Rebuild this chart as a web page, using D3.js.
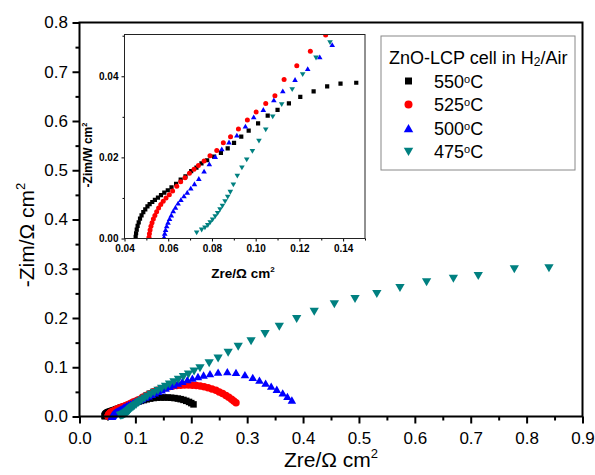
<!DOCTYPE html>
<html>
<head>
<meta charset="utf-8">
<script src="https://cdn.jsdelivr.net/npm/d3@7"></script>
<style>
  html, body { margin: 0; padding: 0; background: #fff; }
  svg { display: block; }
  text { font-family: "Liberation Sans", Arial, Helvetica, sans-serif; fill: #000; }
</style>
</head>
<body>
<svg id="chart" width="595" height="475"></svg>
<script>
// Impedance spectra (Nyquist) of the ZnO-LCP cell, Zre / -Zim in ohm cm2
const temps = ["550", "525", "500", "475"];

const zre550 = [0.0451,0.0453,0.0456,0.0460,0.0465,0.0471,0.0478,0.0486,0.0495,0.0505,0.0515,0.0527,0.0539,0.0553,0.0567,0.0582,0.0598,0.0615,0.0636,0.0657,0.0679,0.0705,0.0729,0.0752,0.0778,0.0810,0.0841,0.0872,0.0901,0.0934,0.0968,0.1011,0.1055,0.1100,0.1152,0.1204,0.1265,0.1327,0.1388,0.1460,0.152,0.158,0.164,0.170,0.176,0.181,0.186,0.191,0.196,0.200,0.204];
const zim550 = [0.0004,0.0013,0.0022,0.0031,0.0040,0.0049,0.0057,0.0065,0.0072,0.0079,0.0085,0.0090,0.0095,0.0101,0.0107,0.0113,0.0119,0.0126,0.0135,0.0145,0.0153,0.0166,0.0175,0.0185,0.0193,0.0202,0.0211,0.0222,0.0236,0.0251,0.0266,0.0284,0.0303,0.0317,0.0333,0.0349,0.0363,0.0375,0.0382,0.0384,0.0386,0.0385,0.0381,0.0374,0.0364,0.0352,0.0337,0.0318,0.0296,0.0272,0.0246];

const zre525 = [0.0512,0.0514,0.0517,0.0521,0.0526,0.0532,0.0539,0.0547,0.0556,0.0566,0.0577,0.0590,0.0605,0.0620,0.0639,0.0657,0.0677,0.0697,0.0718,0.0738,0.0764,0.0791,0.0822,0.0852,0.0885,0.0921,0.0962,0.1002,0.1046,0.1088,0.1130,0.1188,0.1250,0.1320,0.139,0.146,0.153,0.160,0.167,0.174,0.181,0.188,0.195,0.202,0.209,0.216,0.223,0.230,0.237,0.244,0.250,0.256,0.262,0.267,0.272,0.276,0.280];
const zim525 = [0.0003,0.0012,0.0021,0.0030,0.0039,0.0048,0.0057,0.0066,0.0075,0.0084,0.0092,0.0100,0.0108,0.0117,0.0129,0.0140,0.0150,0.0161,0.0171,0.0180,0.0191,0.0204,0.0217,0.0236,0.0251,0.0270,0.0292,0.0312,0.0333,0.0352,0.0392,0.0426,0.0462,0.0502,0.0535,0.0562,0.0585,0.0603,0.0617,0.0627,0.0634,0.0638,0.0638,0.0635,0.0628,0.0617,0.0602,0.0583,0.0560,0.0532,0.0500,0.0465,0.0428,0.0390,0.0352,0.0316,0.0280];

const zre500 = [0.0581,0.0584,0.0588,0.0593,0.0599,0.0606,0.0614,0.0623,0.0633,0.0645,0.0658,0.0672,0.0687,0.0703,0.0720,0.0740,0.0764,0.0788,0.0815,0.0845,0.0878,0.0914,0.0953,0.0991,0.1035,0.1083,0.1124,0.1180,0.1238,0.1293,0.1350,0.141,0.147,0.154,0.161,0.168,0.176,0.184,0.193,0.202,0.212,0.222,0.2335,0.248,0.2645,0.280,0.296,0.310,0.322,0.333,0.343,0.353,0.3636,0.372,0.380];
const zim500 = [0.0004,0.0013,0.0022,0.0031,0.0040,0.0049,0.0058,0.0068,0.0077,0.0087,0.0096,0.0105,0.0114,0.0124,0.0135,0.0148,0.0166,0.0184,0.0202,0.0221,0.0238,0.0255,0.0277,0.0300,0.0318,0.0342,0.0364,0.0392,0.0419,0.0448,0.0478,0.0512,0.0543,0.0578,0.0612,0.0645,0.0680,0.0714,0.0748,0.0780,0.0812,0.0843,0.0872,0.0902,0.0912,0.0895,0.0850,0.0795,0.0738,0.0678,0.0618,0.0553,0.0478,0.0410,0.0335];

const zre475 = [0.0730,0.0753,0.0768,0.0781,0.0792,0.0803,0.0815,0.0826,0.0837,0.0848,0.0860,0.0872,0.0884,0.0898,0.0916,0.0937,0.0959,0.0985,0.1015,0.1046,0.1078,0.1119,0.1167,0.1215,0.1276,0.1340,0.1405,0.147,0.154,0.161,0.169,0.177,0.186,0.195,0.205,0.2156,0.232,0.248,0.266,0.284,0.307,0.332,0.3575,0.3886,0.420,0.456,0.493,0.532,0.5734,0.621,0.669,0.7135,0.778,0.840];
const zim475 = [0.0014,0.0021,0.0026,0.0032,0.0039,0.0046,0.0054,0.0062,0.0071,0.0080,0.0091,0.0102,0.0114,0.0132,0.0154,0.0174,0.0194,0.0215,0.0240,0.0268,0.0300,0.0330,0.0367,0.0404,0.0445,0.0483,0.0523,0.0563,0.0605,0.0648,0.0697,0.0746,0.0800,0.0855,0.0915,0.0980,0.1080,0.1180,0.1296,0.1417,0.1530,0.1675,0.1823,0.1980,0.2128,0.2278,0.2386,0.2487,0.2609,0.2725,0.2798,0.2853,0.2989,0.3009];

// Tick values
const xTicks = [0, 0.1, 0.2, 0.3, 0.4, 0.5, 0.6, 0.7, 0.8, 0.9];
const yTicks = [0, 0.1, 0.2, 0.3, 0.4, 0.5, 0.6, 0.7, 0.8];
const xMinor = [0.05, 0.15, 0.25, 0.35, 0.45, 0.55, 0.65, 0.75, 0.85];
const yMinor = [0.05, 0.15, 0.25, 0.35, 0.45, 0.55, 0.65, 0.75];
const xiTicks = [0.04, 0.06, 0.08, 0.10, 0.12, 0.14];
const xiMinor = [0.05, 0.07, 0.09, 0.11, 0.13, 0.15];
const yiTicks = [0, 0.02, 0.04];
const yiMinor = [0.01, 0.03, 0.05];

// Styling per series
const colors = ["#000000", "#ff0000", "#0000ff", "#008080"];
const shapes = ["square", "circle", "triUp", "triDown"];

const series = [
  { t: temps[0], zre: zre550, zim: zim550 },
  { t: temps[1], zre: zre525, zim: zim525 },
  { t: temps[2], zre: zre500, zim: zim500 },
  { t: temps[3], zre: zre475, zim: zim475 }
].map((s, i) => ({ ...s, color: colors[i], shape: shapes[i],
  pts: s.zre.map((v, j) => [v, s.zim[j]]) }));

// Triangles centred on their bounding box; size = width^2
function triangle(dir, ratio) {
  return { draw(ctx, size) {
    const w = Math.sqrt(size), h = w * ratio;
    ctx.moveTo(0, -dir * h / 2);
    ctx.lineTo(w / 2, dir * h / 2);
    ctx.lineTo(-w / 2, dir * h / 2);
    ctx.closePath();
  } };
}
function symbolPath(shape, scale) {
  // scale: linear size in px (square side / circle diameter / triangle width)
  if (shape === "square") return d3.symbol(d3.symbolSquare, scale * scale)();
  if (shape === "circle") return d3.symbol(d3.symbolCircle, Math.PI * scale * scale / 4)();
  if (shape === "triUp") return d3.symbol(triangle(1, 0.86), scale * scale)();
  return d3.symbol(triangle(-1, 0.86), scale * scale)();
}
const mainSize = { square: 6.5, circle: 7.5, triUp: 8.5, triDown: 9.3 };
const insetSize = { square: 4.2, circle: 5, triUp: 5.6, triDown: 5.6 };
const legendSize = { square: 7, circle: 8, triUp: 9.5, triDown: 9.5 };

const svg = d3.select("#chart");
const FONT = '"Liberation Sans", Arial, Helvetica, sans-serif';

// ---------- Main plot ----------
const x = d3.scaleLinear().domain([0, 0.9]).range([79.5, 582.5]);
const y = d3.scaleLinear().domain([0, 0.8]).range([416.5, 22.5]);

function styleAxis(g, fs, sw, bold) {
  g.select(".domain").remove();
  g.selectAll(".tick line").attr("stroke", "#000").attr("stroke-width", sw);
  g.selectAll(".tick text").attr("font-size", fs).attr("font-family", FONT)
    .attr("font-weight", bold ? "bold" : "normal").attr("fill", "#000");
}

svg.append("g").attr("transform", `translate(0,${y(0)})`)
  .call(d3.axisBottom(x).tickValues(xTicks).tickFormat(d3.format(".1f")).tickSize(7).tickPadding(8))
  .call(g => styleAxis(g, 17, 2, false));
svg.append("g").attr("transform", `translate(0,${y(0)})`)
  .call(d3.axisBottom(x).tickValues(xMinor).tickFormat("").tickSize(4))
  .call(g => styleAxis(g, 17, 2, false));
svg.append("g").attr("transform", `translate(${x(0)},0)`)
  .call(d3.axisLeft(y).tickValues(yTicks).tickFormat(d3.format(".1f")).tickSize(7).tickPadding(4.5))
  .call(g => styleAxis(g, 17, 2, false));
svg.append("g").attr("transform", `translate(${x(0)},0)`)
  .call(d3.axisLeft(y).tickValues(yMinor).tickFormat("").tickSize(4))
  .call(g => styleAxis(g, 17, 2, false));

// Data markers, hottest first so the 475 °C series sits on top
const mainG = svg.append("g");
series.forEach(s => {
  mainG.append("g").selectAll("path").data(s.pts).join("path")
    .attr("d", symbolPath(s.shape, mainSize[s.shape]))
    .attr("transform", d => `translate(${x(d[0])},${y(d[1])})`)
    .attr("fill", s.color);
});

// Frame
svg.append("rect")
  .attr("x", x(0)).attr("y", y(0.8))
  .attr("width", x(0.9) - x(0)).attr("height", y(0) - y(0.8))
  .attr("fill", "none").attr("stroke", "#000").attr("stroke-width", 2);

// Axis titles
const xt = svg.append("text").attr("x", (x(0) + x(0.9)) / 2).attr("y", 467)
  .attr("text-anchor", "middle").attr("font-size", 21);
xt.append("tspan").text("Zre/\u03A9 cm");
xt.append("tspan").attr("font-size", 13).attr("dy", -9).text("2");

const yt = svg.append("text").attr("transform", "translate(34,235) rotate(-90)")
  .attr("text-anchor", "middle").attr("font-size", 21);
yt.append("tspan").text("-Zim/\u03A9 cm");
yt.append("tspan").attr("font-size", 13).attr("dy", -9).text("2");

// ---------- Inset (high-frequency zoom) ----------
const xi = d3.scaleLinear().domain([0.04, 0.15]).range([124.5, 365]);
const yi = d3.scaleLinear().domain([0, 0.0503]).range([238.5, 34.5]);

svg.append("rect")
  .attr("x", xi(0.04)).attr("y", yi(0.0503))
  .attr("width", xi(0.15) - xi(0.04)).attr("height", yi(0) - yi(0.0503))
  .attr("fill", "#fff");

svg.append("clipPath").attr("id", "insetClip").append("rect")
  .attr("x", xi(0.04)).attr("y", yi(0.0503))
  .attr("width", xi(0.15) - xi(0.04)).attr("height", yi(0) - yi(0.0503));

const insetG = svg.append("g").attr("clip-path", "url(#insetClip)");
series.forEach(s => {
  insetG.append("g").selectAll("path")
    .data(s.pts.filter(d => d[0] <= 0.16 && d[1] <= 0.056)).join("path")
    .attr("d", symbolPath(s.shape, insetSize[s.shape]))
    .attr("transform", d => `translate(${xi(d[0])},${yi(d[1])})`)
    .attr("fill", s.color);
});

svg.append("g").attr("transform", `translate(0,${yi(0)})`)
  .call(d3.axisBottom(xi).tickValues(xiTicks).tickFormat(d3.format(".2f")).tickSize(3).tickPadding(3.5))
  .call(g => styleAxis(g, 10, 1, true));
svg.append("g").attr("transform", `translate(0,${yi(0)})`)
  .call(d3.axisBottom(xi).tickValues(xiMinor).tickFormat("").tickSize(2))
  .call(g => styleAxis(g, 10, 1, true));
svg.append("g").attr("transform", `translate(${xi(0.04)},0)`)
  .call(d3.axisLeft(yi).tickValues(yiTicks).tickFormat(d3.format(".2f")).tickSize(3).tickPadding(3))
  .call(g => styleAxis(g, 10, 1, true));
svg.append("g").attr("transform", `translate(${xi(0.04)},0)`)
  .call(d3.axisLeft(yi).tickValues(yiMinor).tickFormat("").tickSize(2))
  .call(g => styleAxis(g, 10, 1, true));

svg.append("rect")
  .attr("x", xi(0.04)).attr("y", yi(0.0503))
  .attr("width", xi(0.15) - xi(0.04)).attr("height", yi(0) - yi(0.0503))
  .attr("fill", "none").attr("stroke", "#222").attr("stroke-width", 1);

const xit = svg.append("text").attr("x", 243).attr("y", 278)
  .attr("text-anchor", "middle").attr("font-size", 13.5).attr("font-weight", "bold");
xit.append("tspan").text("Zre/\u03A9 cm");
xit.append("tspan").attr("font-size", 8).attr("dy", -6).text("2");

const yit = svg.append("text").attr("transform", "translate(92,155) rotate(-90)")
  .attr("text-anchor", "middle").attr("font-size", 12).attr("font-weight", "bold");
yit.append("tspan").text("-Zim/W cm");
yit.append("tspan").attr("font-size", 7.5).attr("dy", -5).text("2");

// ---------- Legend ----------
const lg = svg.append("g");
lg.append("rect").attr("x", 381).attr("y", 36).attr("width", 194).attr("height", 134)
  .attr("fill", "#fff").attr("stroke", "#888").attr("stroke-width", 1);

const lt = lg.append("text").attr("x", 389).attr("y", 64).attr("font-size", 18);
lt.append("tspan").text("ZnO-LCP cell in H");
lt.append("tspan").attr("font-size", 12).attr("dy", 2).text("2");
lt.append("tspan").attr("dy", -2).text("/Air");

series.forEach((s, i) => {
  const cy = 81 + i * 23.6;
  lg.append("path").attr("d", symbolPath(s.shape, legendSize[s.shape]))
    .attr("transform", `translate(408.5,${cy})`).attr("fill", s.color);
  const t = lg.append("text").attr("x", 434).attr("y", cy + 6.5).attr("font-size", 18);
  t.append("tspan").text(s.t);
  t.append("tspan").attr("font-size", 11).attr("dy", -5).text("o");
  t.append("tspan").attr("dy", 5).text("C");
});
</script>
</body>
</html>
